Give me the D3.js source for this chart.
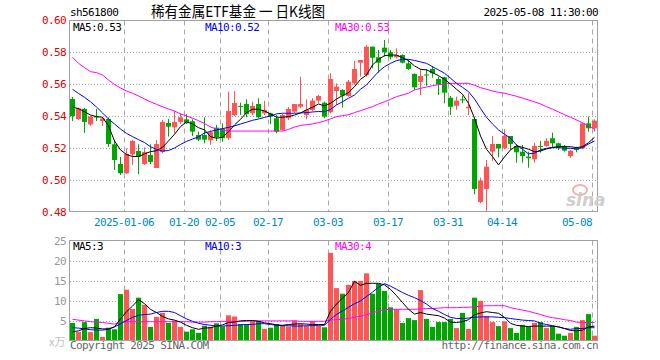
<!DOCTYPE html>
<html>
<head>
<meta charset="utf-8">
<script src="https://cdn.jsdelivr.net/npm/d3@7"></script>
<style>
    html, body { margin: 0; padding: 0; background: #fff; }
    svg text { font-family: "DejaVu Sans Mono", monospace; font-size: 11px; letter-spacing: -0.6px; }
</style>
</head>
<body>
<svg id="chart" width="660" height="360"></svg>
<script>
const dates = [
    '2024-12-23', '2024-12-24', '2024-12-25', '2024-12-26', '2024-12-27', '2024-12-30', '2024-12-31', '2025-01-02', '2025-01-03',
    '2025-01-06', '2025-01-07', '2025-01-08', '2025-01-09', '2025-01-10', '2025-01-13', '2025-01-14', '2025-01-15', '2025-01-16',
    '2025-01-17', '2025-01-20', '2025-01-21', '2025-01-22', '2025-01-23', '2025-01-24', '2025-01-27',
    '2025-02-05', '2025-02-06', '2025-02-07', '2025-02-10', '2025-02-11', '2025-02-12', '2025-02-13', '2025-02-14', '2025-02-17',
    '2025-02-18', '2025-02-19', '2025-02-20', '2025-02-21', '2025-02-24', '2025-02-25', '2025-02-26', '2025-02-27', '2025-02-28',
    '2025-03-03', '2025-03-04', '2025-03-05', '2025-03-06', '2025-03-07', '2025-03-10', '2025-03-11', '2025-03-12', '2025-03-13',
    '2025-03-14', '2025-03-17', '2025-03-18', '2025-03-19', '2025-03-20', '2025-03-21', '2025-03-24', '2025-03-25', '2025-03-26',
    '2025-03-27', '2025-03-28', '2025-03-31', '2025-04-01', '2025-04-02', '2025-04-03', '2025-04-07', '2025-04-08', '2025-04-09',
    '2025-04-10', '2025-04-11', '2025-04-14', '2025-04-15', '2025-04-16', '2025-04-17', '2025-04-18', '2025-04-21', '2025-04-22',
    '2025-04-23', '2025-04-24', '2025-04-25', '2025-04-28', '2025-04-29', '2025-04-30', '2025-05-06', '2025-05-07', '2025-05-08',
];

const opens = [
    .5508, .5383, .5446, .5349, .5399, .5371, .5383, .5225, .5102, .5044, .5163, .5183, .5102, .5158, .5077, .5177, .5358, .5331,
    .5365, .5381, .5369, .5283, .5283, .5250, .5329, .5323, .5263, .5408, .5465, .5477, .5419, .5477, .5419, .5419, .5388, .5315,
    .5388, .5429, .5460, .5408, .5440, .5498, .5485, .5425, .5558, .5565, .5527, .5606, .5735, .5658, .5835, .5769, .5829, .5800,
    .5769, .5783, .5731, .5665, .5615, .5661, .5696, .5633, .5644, .5516, .5466, .5506, .5450, .5383, .4865, .4946, .5179, .5227,
    .5200, .5277, .5215, .5179, .5148, .5131, .5215, .5215, .5263, .5231, .5215, .5152, .5200, .5200, .5356, .5325,
];
const closes = [
    .5402, .5449, .5365, .5399, .5393, .5386, .5227, .5127, .5044, .5165, .5246, .5148, .5177, .5115, .5227, .5365, .5335, .5365,
    .5394, .5356, .5304, .5254, .5254, .5300, .5269, .5263, .5433, .5483, .5461, .5415, .5465, .5394, .5440, .5398, .5304, .5408,
    .5446, .5477, .5477, .5440, .5498, .5527, .5398, .5633, .5585, .5529, .5616, .5696, .5752, .5835, .5766, .5735, .5800, .5769,
    .5783, .5735, .5696, .5581, .5652, .5655, .5669, .5600, .5548, .5460, .5498, .5502, .5460, .4946, .4998, .5085, .5227, .5200,
    .5279, .5227, .5175, .5152, .5138, .5215, .5211, .5246, .5231, .5206, .5185, .5185, .5190, .5356, .5325, .5373,
];
const highs = [
    .5521, .5455, .5452, .5402, .5446, .5396, .5393, .5252, .5146, .5200, .5252, .5225, .5206, .5225, .5252, .5377, .5383, .5433,
    .5419, .5414, .5381, .5304, .5394, .5315, .5346, .5356, .5554, .5558, .5485, .5506, .5491, .5513, .5496, .5423, .5408, .5415,
    .5458, .5477, .5648, .5506, .5513, .5533, .5491, .5669, .5606, .5569, .5627, .5746, .5752, .5846, .5835, .5815, .5877, .5815,
    .5825, .5788, .5752, .5669, .5696, .5696, .5715, .5648, .5648, .5527, .5523, .5529, .5544, .5388, .5016, .5127, .5277, .5227,
    .5319, .5277, .5225, .5221, .5179, .5235, .5246, .5263, .5298, .5235, .5221, .5190, .5210, .5356, .5398, .5381,
];
const lows = [
    .5371, .5377, .5296, .5340, .5371, .5340, .5208, .5065, .5033, .5040, .5096, .5040, .5096, .5102, .5077, .5169, .5273, .5294,
    .5352, .5352, .5277, .5246, .5231, .5221, .5246, .5242, .5252, .5402, .5408, .5394, .5408, .5388, .5408, .5352, .5294, .5310,
    .5377, .5421, .5450, .5381, .5433, .5485, .5388, .5419, .5471, .5454, .5523, .5596, .5648, .5648, .5700, .5673, .5773, .5756,
    .5763, .5731, .5690, .5565, .5533, .5590, .5641, .5533, .5481, .5408, .5440, .5481, .5408, .4913, .4856, .4804, .5121, .5144,
    .5194, .5190, .5110, .5110, .5079, .5110, .5173, .5210, .5206, .5190, .5179, .5138, .5175, .5194, .5304, .5304,
];
const volumes = [
    4.4, 2.1, 4.6, 2.1, 5.4, 0.9, 3.2, 2.8, 11.6, 12.7, 7.9, 10.7, 8.9, 3.4, 5.9, 6.9, 4.4, 5.0, 3.4, 2.2, 2.8, 1.9,
    3.7, 3.4, 4.3, 3.5, 6.3, 6.0, 4.1, 4.1, 4.9, 4.9, 2.9, 3.2, 4.1, 3.7, 3.5, 5.0, 4.1, 3.6, 4.8, 3.7, 3.3, 21.9,
    13.1, 11.7, 13.9, 14.9, 14.9, 16.8, 11.7, 14.2, 12.4, 8.3, 7.8, 4.4, 5.6, 5.1, 12.6, 5.4, 3.4, 4.6, 4.6, 5.4, 3.1, 6.9,
    2.9, 10.7, 9.9, 6.1, 4.6, 3.6, 4.8, 3.1, 1.9, 3.9, 3.5, 4.4, 4.6, 3.1, 3.6, 1.7, 1.2, 1.9, 3.4, 5.1, 6.6, 1.2,
];

const ma5 = [
    .5458, .5448, .5429, .5408, .5398, .5394, .5340, .5246, .5190, .5161, .5149, .5148, .5165, .5179, .5185, .5206, .5246, .5288,
    .5335, .5366, .5352, .5329, .5315, .5273, .5263, .5269, .5304, .5346, .5381, .5423, .5444, .5444, .5433, .5415, .5394, .5394,
    .5398, .5408, .5421, .5440, .5456, .5477, .5465, .5481, .5508, .5529, .5548, .5585, .5631, .5658, .5721, .5756, .5779, .5783,
    .5783, .5766, .5748, .5715, .5694, .5690, .5673, .5654, .5631, .5602, .5569, .5538, .5481, .5388, .5277, .5194, .5148, .5096,
    .5146, .5190, .5215, .5206, .5194, .5179, .5183, .5196, .5206, .5210, .5210, .5210, .5204, .5210, .5235, .5269,
];
const ma10 = [
    .5568, .5543, .5518, .5491, .5458, .5421, .5383, .5352, .5321, .5293, .5273, .5254, .5236, .5210, .5193, .5183, .5186, .5202,
    .5224, .5243, .5258, .5271, .5296, .5305, .5315, .5323, .5331, .5340, .5352, .5363, .5375, .5383, .5393, .5402, .5415, .5419,
    .5419, .5419, .5421, .5423, .5427, .5430, .5428, .5443, .5471, .5491, .5513, .5533, .5569, .5596, .5638, .5679, .5710, .5731,
    .5748, .5756, .5756, .5749, .5740, .5731, .5710, .5690, .5669, .5638, .5606, .5581, .5554, .5508, .5450, .5394, .5352, .5315,
    .5288, .5263, .5221, .5194, .5165, .5169, .5190, .5200, .5204, .5204, .5200, .5200, .5196, .5204, .5227, .5246,
];
const ma30 = [
    .5769, .5731, .5704, .5679, .5673, .5658, .5627, .5599, .5577, .5558, .5544, .5527, .5508, .5490, .5475, .5460, .5446, .5433,
    .5415, .5402, .5388, .5373, .5355, .5333, .5321, .5315, .5308, .5308, .5308, .5308, .5308, .5308, .5308, .5308, .5308, .5308,
    .5318, .5333, .5343, .5348, .5352, .5360, .5371, .5384, .5398, .5404, .5410, .5423, .5435, .5448, .5460, .5477, .5491, .5506,
    .5523, .5533, .5544, .5565, .5575, .5583, .5591, .5598, .5602, .5606, .5606, .5606, .5606, .5594, .5579, .5569, .5558, .5550,
    .5544, .5535, .5525, .5514, .5502, .5490, .5477, .5460, .5444, .5427, .5410, .5394, .5377, .5360, .5340, .5319,
];

const vol_ma5 = [
    2.2, 2.4, 3.0, 3.2, 3.1, 2.9, 2.9, 3.4, 5.4, 7.2, 8.6, 10.2, 9.2, 7.8, 7.0, 6.0, 5.4, 5.1, 4.6, 3.8, 3.2, 2.8,
    3.1, 3.2, 3.6, 3.9, 4.5, 4.6, 4.9, 5.0, 5.0, 4.8, 4.4, 4.2, 3.9, 3.8, 4.0, 4.1, 4.2, 4.1, 4.0, 4.0, 4.0, 7.3,
    9.1, 10.6, 12.0, 14.8, 13.8, 14.3, 14.3, 14.3, 13.9, 12.8, 11.2, 9.5, 7.8, 6.6, 7.0, 6.6, 6.4, 6.2, 5.6, 4.6, 4.5, 4.7,
    5.2, 6.4, 6.9, 7.2, 7.0, 6.8, 5.8, 4.3, 3.8, 3.6, 3.5, 3.6, 3.6, 3.6, 3.6, 3.4, 3.0, 2.5, 2.4, 2.6, 3.4, 3.6,
];
const vol_ma10 = [
    3.2, 3.1, 2.9, 2.7, 2.6, 2.6, 2.8, 3.4, 4.2, 5.0, 5.8, 6.3, 6.5, 6.6, 7.0, 7.3, 7.3, 7.0, 6.2, 5.4, 4.8, 4.3,
    4.0, 3.8, 3.6, 3.6, 3.7, 3.8, 3.9, 4.0, 4.0, 4.2, 4.2, 4.0, 3.8, 3.7, 3.7, 3.6, 3.6, 3.7, 3.7, 3.8, 3.8, 5.3,
    6.5, 7.4, 8.3, 9.2, 9.9, 11.0, 12.1, 13.3, 14.2, 13.6, 12.8, 12.0, 11.3, 10.7, 10.0, 9.1, 8.0, 7.3, 6.5, 5.8, 5.5, 5.5,
    5.6, 5.8, 5.9, 5.9, 5.9, 5.8, 5.7, 5.5, 5.3, 5.1, 5.0, 4.9, 4.3, 4.0, 3.7, 3.4, 3.0, 2.8, 3.0, 3.0, 3.2, 3.2,
];
const vol_ma30 = [
    5.3, 5.1, 4.9, 4.7, 4.6, 4.5, 4.3, 4.1, 4.6, 4.7, 4.7, 4.7, 4.7, 4.7, 4.7, 4.7, 4.7, 4.7, 4.7, 4.7, 4.6, 4.6,
    4.6, 4.7, 4.7, 4.8, 4.8, 4.8, 4.8, 4.8, 4.9, 4.9, 4.9, 4.9, 4.9, 4.9, 4.9, 4.9, 4.8, 4.8, 4.8, 4.8, 4.8, 5.1,
    5.2, 5.3, 5.5, 5.8, 6.1, 6.5, 6.9, 7.4, 7.7, 7.8, 7.8, 7.8, 7.8, 7.8, 7.9, 8.0, 8.0, 8.1, 8.2, 8.2, 8.2, 8.3,
    8.3, 8.4, 8.6, 8.7, 8.7, 8.7, 8.7, 8.2, 7.9, 7.6, 7.3, 6.9, 6.5, 6.0, 5.7, 5.5, 5.2, 5.0, 4.6, 4.5, 4.5, 4.5,
];

const tick_dates = ['2025-01-06', '2025-01-20', '2025-02-05', '2025-02-17', '2025-03-03', '2025-03-17', '2025-03-31', '2025-04-14', '2025-05-08'];
const tick_labels = ['2025-01-06', '01-20', '02-05', '02-17', '03-03', '03-17', '03-31', '04-14', '05-08'];
const price_ticks = [0.48, 0.50, 0.52, 0.54, 0.56, 0.58, 0.60];
const volume_ticks = [5, 10, 15, 20, 25];

const price_ma_labels = ['MA5:0.53', 'MA10:0.52', 'MA30:0.53'];
const volume_ma_labels = ['MA5:3', 'MA10:3', 'MA30:4'];

const colors = {
    up: '#ff5555',
    down: '#00a600',
    ma5: '#000000',
    ma10: '#0000ff',
    ma30: '#ff00ff',
    frame: '#a0a0a0',
    grid: '#a8a8a8',
};

const left = 70;
const right = 597;
const main_top = 20.5;
const main_bottom = 211.5;
const vol_top = 240.5;
const vol_bottom = 340.5;

const svg = d3.select('#chart');

const x = d3.scaleBand()
    .domain(dates)
    .range([left, right])
    .paddingInner(1 / 6)
    .paddingOuter(0)
    .align(0);
const bar_w = x.bandwidth();

const y_price = d3.scaleLinear().domain([0.48, 0.60]).range([212.3, 20.3]);
const y_volume = d3.scaleLinear().domain([0, 25]).range([vol_bottom, vol_top]);

const candles = dates.map((date, i) => ({
    date,
    open: opens[i],
    close: closes[i],
    high: highs[i],
    low: lows[i],
    volume: volumes[i],
}));
const candle_color = d => d.close >= d.open ? colors.up : colors.down;

// header
svg.append('text')
    .attr('x', 70)
    .attr('y', 16)
    .attr('fill', '#000')
    .text('sh561800');

svg.append('text')
    .attr('x', 151)
    .attr('y', 17)
    .attr('fill', '#000')
    .attr('textLength', 174)
    .attr('lengthAdjust', 'spacingAndGlyphs')
    .style('font-family', '"Noto Sans CJK SC", sans-serif')
    .style('font-size', '15px')
    .style('letter-spacing', '0px')
    .text('稀有金属ETF基金 一 日K线图');

svg.append('text')
    .attr('x', right + 1)
    .attr('y', 16)
    .attr('text-anchor', 'end')
    .attr('fill', '#000')
    .text('2025-05-08 11:30:00');

// grid
const grid = svg.append('g');

grid.selectAll('.price-grid')
    .data(price_ticks.slice(1, -1))
    .enter()
    .append('line')
    .attr('x1', left)
    .attr('x2', right)
    .attr('y1', d => Math.round(y_price(d)) + 0.5)
    .attr('y2', d => Math.round(y_price(d)) + 0.5)
    .attr('stroke', colors.grid)
    .attr('stroke-dasharray', '1,2');

grid.selectAll('.vol-grid')
    .data(volume_ticks.slice(0, -1))
    .enter()
    .append('line')
    .attr('x1', left)
    .attr('x2', right)
    .attr('y1', d => Math.round(y_volume(d)) + 0.5)
    .attr('y2', d => Math.round(y_volume(d)) + 0.5)
    .attr('stroke', colors.grid)
    .attr('stroke-dasharray', '1,2');

[[main_top, main_bottom], [vol_top, vol_bottom]].forEach(([y0, y1]) => {
    grid.selectAll(null)
        .data(tick_dates)
        .enter()
        .append('line')
        .attr('x1', d => x(d) + 0.5)
        .attr('x2', d => x(d) + 0.5)
        .attr('y1', y0)
        .attr('y2', y1)
        .attr('stroke', colors.grid)
        .attr('stroke-dasharray', '5,4');
});

// candles
const candle_g = svg.append('g');

candle_g.selectAll('.wick')
    .data(candles)
    .enter()
    .append('rect')
    .attr('x', d => x(d.date) + Math.floor(bar_w / 2))
    .attr('width', 1)
    .attr('y', d => y_price(d.high))
    .attr('height', d => Math.max(1, y_price(d.low) - y_price(d.high)))
    .attr('fill', candle_color);

candle_g.selectAll('.body')
    .data(candles)
    .enter()
    .append('rect')
    .attr('x', d => x(d.date))
    .attr('width', bar_w)
    .attr('y', d => y_price(Math.max(d.open, d.close)))
    .attr('height', d => Math.max(1, Math.abs(y_price(d.open) - y_price(d.close))))
    .attr('fill', candle_color);

// volume bars
svg.append('g')
    .selectAll('rect')
    .data(candles)
    .enter()
    .append('rect')
    .attr('x', d => x(d.date))
    .attr('width', bar_w)
    .attr('y', d => y_volume(d.volume))
    .attr('height', d => vol_bottom - y_volume(d.volume))
    .attr('fill', candle_color);

// moving averages
const ma_line = y => d3.line()
    .x((d, i) => x(dates[i]) + bar_w / 2)
    .y(d => y(d));

[[ma30, colors.ma30], [ma10, colors.ma10], [ma5, colors.ma5]].forEach(([series, color]) => {
    svg.append('path')
        .datum(series)
        .attr('d', ma_line(y_price))
        .attr('fill', 'none')
        .attr('stroke', color)
        .attr('stroke-width', 1);
});

[[vol_ma30, colors.ma30], [vol_ma10, colors.ma10], [vol_ma5, colors.ma5]].forEach(([series, color]) => {
    svg.append('path')
        .datum(series)
        .attr('d', ma_line(y_volume))
        .attr('fill', 'none')
        .attr('stroke', color)
        .attr('stroke-width', 1);
});

// frames
[[main_top, main_bottom], [vol_top, vol_bottom]].forEach(([y0, y1]) => {
    svg.append('rect')
        .attr('x', left - 0.5)
        .attr('y', y0)
        .attr('width', right - left + 1)
        .attr('height', y1 - y0)
        .attr('fill', 'none')
        .attr('stroke', colors.frame);
});

// axes labels
const price_axis = d3.axisLeft(y_price)
    .tickValues(price_ticks)
    .tickFormat(d3.format('.2f'))
    .tickSize(0)
    .tickPadding(4);

svg.append('g')
    .attr('transform', `translate(${left}, 0)`)
    .call(price_axis)
    .call(g => g.select('.domain').remove())
    .call(g => g.selectAll('text')
        .attr('fill', '#e60000')
        .style('font-family', '"DejaVu Sans Mono", monospace')
        .style('font-size', '11px'));

const volume_axis = d3.axisLeft(y_volume)
    .tickValues(volume_ticks)
    .tickSize(0)
    .tickPadding(4);

svg.append('g')
    .attr('transform', `translate(${left}, 0)`)
    .call(volume_axis)
    .call(g => g.select('.domain').remove())
    .call(g => g.selectAll('text')
        .attr('fill', '#999')
        .style('font-family', '"DejaVu Sans Mono", monospace')
        .style('font-size', '11px'));

svg.append('g')
    .selectAll('text')
    .data(tick_dates)
    .enter()
    .append('text')
    .attr('y', 225.5)
    .attr('fill', '#0088cc')
    .each(function (d, i) {
        const label = tick_labels[i];
        const half = label.length * 3;
        const cx = x(d);
        const node = d3.select(this).text(label);
        if (cx + half > right) {
            node.attr('x', right - 5).attr('text-anchor', 'end');
        } else {
            node.attr('x', cx).attr('text-anchor', 'middle');
        }
    });

// MA legends
const legend_x = [73, 205, 335];
const legend_colors = [colors.ma5, colors.ma10, colors.ma30];

svg.append('g')
    .selectAll('text')
    .data(price_ma_labels)
    .enter()
    .append('text')
    .attr('x', (d, i) => legend_x[i])
    .attr('y', 31)
    .attr('fill', (d, i) => legend_colors[i])
    .text(d => d);

svg.append('g')
    .selectAll('text')
    .data(volume_ma_labels)
    .enter()
    .append('text')
    .attr('x', (d, i) => legend_x[i])
    .attr('y', 250)
    .attr('fill', (d, i) => legend_colors[i])
    .text(d => d);

// unit, footer and watermark
svg.append('text')
    .attr('x', 49)
    .attr('y', 346)
    .attr('fill', '#c0c0c0')
    .style('font-family', '"Noto Sans CJK SC", sans-serif')
    .style('font-size', '11px')
    .style('letter-spacing', '0px')
    .text('x万');

svg.append('text')
    .attr('x', left)
    .attr('y', 349)
    .attr('fill', '#666')
    .text('Copyright 2025 SINA.COM');

svg.append('text')
    .attr('x', right + 1)
    .attr('y', 349)
    .attr('text-anchor', 'end')
    .attr('fill', '#666')
    .text('http://finance.sina.com.cn');

const logo = svg.append('g').attr('transform', 'translate(566, 186)');
logo.append('ellipse')
    .attr('cx', 14)
    .attr('cy', 4)
    .attr('rx', 7)
    .attr('ry', 5)
    .attr('fill', 'none')
    .attr('stroke', '#f2b0b0')
    .attr('stroke-width', 2);
logo.append('text')
    .attr('x', 0)
    .attr('y', 20)
    .attr('fill', '#cfcfcf')
    .style('font-family', '"DejaVu Sans", sans-serif')
    .style('font-size', '17px')
    .style('font-weight', 'bold')
    .style('font-style', 'italic')
    .style('letter-spacing', '0px')
    .text('sina');
</script>
</body>
</html>
